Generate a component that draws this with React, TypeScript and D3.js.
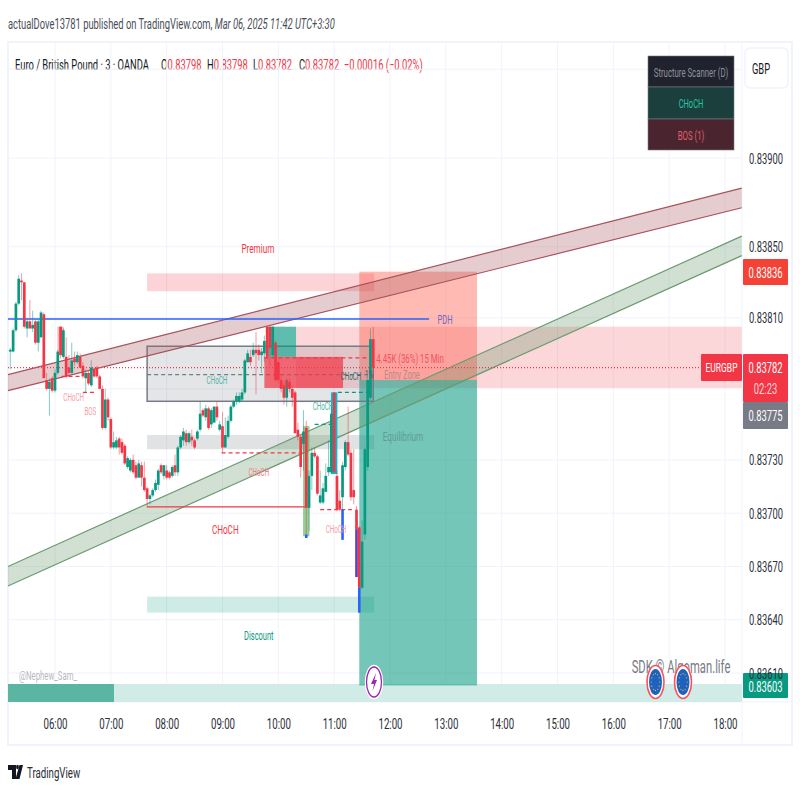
import React, { useEffect, useRef } from "react";
import * as d3 from "d3";

const FONT = "Roboto, 'Liberation Sans', sans-serif";
const UP = "#089981";
const DOWN = "#f23645";
// the whole reference is squeezed sideways, text included
const SQUEEZE = 0.625;

// candles, 3 minute bars, prices in 1/100000
const FIRST_BAR = 312; // 05:12, minutes of the day
const BAR_MINUTES = 3;
const opens = [
  83791, 83791, 83803, 83818, 83831, 83830, 83804, 83808, 83804, 83808,
  83796, 83799, 83812, 83775, 83770, 83776, 83769, 83779, 83805, 83788,
  83788, 83782, 83779, 83787, 83785, 83788, 83783, 83776, 83779, 83772,
  83781, 83782, 83777, 83770, 83748, 83764, 83753, 83737, 83737, 83742,
  83740, 83738, 83726, 83724, 83730, 83727, 83720, 83727, 83720, 83714,
  83708, 83710, 83713, 83716, 83727, 83721, 83724, 83723, 83721, 83727,
  83723, 83737, 83741, 83745, 83740, 83743, 83741, 83742, 83747, 83758,
  83754, 83759, 83750, 83751, 83760, 83747, 83749, 83737, 83743, 83752,
  83760, 83763, 83763, 83764, 83768, 83785, 83788, 83789, 83792, 83792,
  83789, 83790, 83805, 83805, 83789, 83796, 83785, 83775, 83772, 83765,
  83774, 83770, 83768, 83747, 83743, 83739, 83748, 83703, 83721, 83734,
  83732, 83706, 83706, 83712, 83723, 83723, 83768, 83721, 83707, 83709,
  83726, 83740, 83734, 83713, 83702, 83692, 83658, 83688, 83726, 83765,
  83798,
];
const highs = [
  83793, 83804, 83819, 83834, 83835, 83830, 83810, 83820, 83814, 83809,
  83809, 83814, 83813, 83779, 83776, 83777, 83781, 83792, 83805, 83804,
  83799, 83789, 83796, 83791, 83791, 83790, 83785, 83781, 83780, 83786,
  83782, 83783, 83778, 83772, 83770, 83765, 83754, 83746, 83743, 83743,
  83742, 83739, 83732, 83731, 83733, 83729, 83730, 83729, 83729, 83715,
  83711, 83714, 83719, 83725, 83728, 83727, 83727, 83724, 83727, 83733,
  83738, 83744, 83748, 83747, 83746, 83747, 83742, 83747, 83763, 83759,
  83761, 83760, 83759, 83760, 83763, 83752, 83757, 83754, 83755, 83761,
  83764, 83768, 83768, 83770, 83787, 83792, 83792, 83796, 83802, 83795,
  83793, 83800, 83805, 83805, 83805, 83797, 83787, 83778, 83774, 83776,
  83776, 83772, 83769, 83751, 83744, 83758, 83752, 83724, 83737, 83737,
  83733, 83724, 83717, 83728, 83741, 83761, 83768, 83724, 83713, 83729,
  83741, 83760, 83736, 83736, 83704, 83693, 83696, 83737, 83776, 83804,
  83805,
];
const lows = [
  83781, 83791, 83802, 83817, 83820, 83804, 83799, 83804, 83802, 83795,
  83791, 83799, 83776, 83769, 83755, 83768, 83768, 83778, 83787, 83787,
  83776, 83778, 83778, 83783, 83784, 83782, 83776, 83768, 83772, 83771,
  83776, 83776, 83770, 83747, 83747, 83752, 83736, 83736, 83736, 83733,
  83733, 83727, 83725, 83723, 83722, 83719, 83720, 83715, 83712, 83703,
  83705, 83709, 83712, 83713, 83722, 83719, 83719, 83719, 83720, 83721,
  83721, 83736, 83738, 83738, 83739, 83738, 83736, 83741, 83746, 83754,
  83752, 83747, 83748, 83751, 83752, 83746, 83734, 83737, 83742, 83751,
  83759, 83761, 83762, 83763, 83767, 83785, 83783, 83788, 83767, 83786,
  83779, 83785, 83787, 83783, 83787, 83774, 83773, 83768, 83761, 83760,
  83768, 83760, 83745, 83741, 83720, 83724, 83688, 83690, 83713, 83731,
  83710, 83705, 83705, 83712, 83721, 83722, 83723, 83701, 83701, 83685,
  83724, 83732, 83707, 83705, 83665, 83644, 83657, 83685, 83724, 83764,
  83775,
];
const closes = [
  83792, 83803, 83818, 83832, 83830, 83805, 83808, 83804, 83806, 83796,
  83808, 83813, 83776, 83770, 83774, 83769, 83779, 83791, 83789, 83803,
  83777, 83779, 83786, 83785, 83789, 83782, 83777, 83779, 83773, 83782,
  83777, 83777, 83770, 83748, 83764, 83754, 83737, 83740, 83741, 83737,
  83734, 83728, 83731, 83730, 83723, 83720, 83728, 83720, 83713, 83708,
  83710, 83713, 83717, 83724, 83723, 83727, 83720, 83720, 83726, 83723,
  83737, 83743, 83746, 83740, 83745, 83741, 83737, 83746, 83756, 83755,
  83759, 83748, 83758, 83760, 83754, 83750, 83737, 83744, 83752, 83760,
  83763, 83766, 83766, 83768, 83786, 83790, 83785, 83792, 83790, 83789,
  83791, 83797, 83788, 83793, 83805, 83775, 83775, 83770, 83765, 83775,
  83770, 83765, 83745, 83743, 83726, 83746, 83703, 83721, 83734, 83732,
  83711, 83710, 83714, 83721, 83726, 83756, 83723, 83702, 83702, 83727,
  83740, 83733, 83709, 83709, 83691, 83658, 83684, 83736, 83775, 83798,
  83782,
];

// indicator paint on single bars: bar index, top, bottom
const barMarks: [number, number, number, string][] = [
  [18, 83805, 83789, "rgba(242,54,69,0.35)"],
  [106, 83749, 83687, "rgba(76,175,80,0.6)"],
  [116, 83768, 83722, "#00bcd4"],
];
const barTips: [number, number, number, string][] = [
  [106, 83688, 83686, "#2962ff"],
  [119, 83702, 83685, "#2962ff"],
  [124, 83691, 83664, "#673ab7"],
  [125, 83658, 83644, "#2962ff"],
];

const hourTicks = ["06:00", "07:00", "08:00", "09:00", "10:00", "11:00", "12:00", "13:00", "14:00", "15:00", "16:00", "17:00", "18:00"];
const priceTicks = [83900, 83850, 83810, 83730, 83700, 83670, 83640, 83610];
const priceGrid = [83950, 83900, 83850, 83810, 83770, 83730, 83700, 83670, 83640, 83610];

// zones: minutes from, minutes to, price top, price bottom
const premium = [459, 703, 83835, 83825];
const equilibrium = [459, 703, 83744, 83736];
const discount = [459, 703, 83653, 83644];
const rangeBox = [459, 702, 83794, 83763];
const targetBox = [687, 813.5, 83836, 83775];
const stopBox = [687, 813.5, 83775, 83603];
const supplyZone = [619, 1098, 83805, 83770.5];
const tealBlock = [589, 619, 83805, 83788];
const redBlock = [585, 669.5, 83788, 83770.5];

const redChannel = [[309.5, 83778, 83769], [1098, 83883, 83872]];
const greenChannel = [[309.5, 83670, 83659], [1098, 83856, 83845]];

// structure lines: from, to, price, colour, dashed
const structure: [number, number, number, string, boolean][] = [
  [367, 389, 83777, DOWN, true],
  [390, 405, 83768, DOWN, true],
  [539, 623, 83734, DOWN, true],
  [459, 631, 83703.5, DOWN, false],
  [645, 679, 83702, DOWN, true],
  [664, 696, 83768, UP, true],
  [639, 659, 83750, UP, true],
  [585, 698, 83787.4, DOWN, true],
  [459, 702, 83778, "#787b86", true],
];
// chart text: minutes, price, text, colour, size
const chartLabels: [number, number, string, string, number][] = [
  [380, 83765, "CHoCH", "#f7a0a8", 10],
  [398, 83757.5, "BOS", "#f7a0a8", 10],
  [534, 83775, "CHoCH", "#4db6a4", 10],
  [579, 83723, "CHoCH", "#f77c87", 10],
  [543, 83691, "CHoCH", "#f23645", 13],
  [662, 83691, "CHoCH", "#f7a0a8", 10],
  [648, 83760, "CHoCH", "#4db6a4", 10],
  [678, 83777, "CHoCH", "#37695f", 10],
  [578, 83849, "Premium", "#f23645", 13],
  [579, 83631, "Discount", UP, 12],
];

// legend pieces: left edge, label, value
const ohlcLegend: [number, string, string][] = [
  [161, "O", "0.83798"],
  [207, "H", "0.83798"],
  [253, "L", "0.83782"],
  [299, "C", "0.83782"],
];

const squeezed = (x: number, y: number) => `translate(${x},${y}) scale(${SQUEEZE},1)`;

const Row = ({ y, h, fill, color, text, size }: { y: number; h: number; fill: string; color: string; text: string; size: number }) => (
  <g>
    <rect x={648} y={y} width={86} height={h} fill={fill} stroke="#787b86" strokeWidth={0.6} />
    <text transform={squeezed(691, y + h / 2 + 5)} fontSize={size} fill={color} textAnchor="middle">{text}</text>
  </g>
);

const App: React.FC = () => {
  const plotRef = useRef<SVGGElement>(null);
  const axisRef = useRef<SVGGElement>(null);

  const x = d3.scaleLinear().domain([360, 1080]).range([55, 725]);
  const y = d3.scaleLinear().domain([83900, 83610]).range([158, 673]);

  useEffect(() => {
    if (!plotRef.current || !axisRef.current) return;
    const g = d3.select(plotRef.current);
    g.selectAll("*").remove();

    const zone = (z: number[], fill: string, stroke?: string) =>
      g.append("rect")
        .attr("x", x(z[0]))
        .attr("y", y(z[2]))
        .attr("width", x(z[1]) - x(z[0]))
        .attr("height", y(z[3]) - y(z[2]))
        .attr("fill", fill)
        .attr("stroke", stroke || "none")
        .attr("stroke-width", 1.5);

    const text = (tx: number, ty: number, s: string, color: string, size: number) =>
      g.append("text")
        .attr("transform", squeezed(tx, ty + size * 0.36))
        .attr("text-anchor", "middle")
        .attr("font-size", size)
        .attr("fill", color)
        .text(s);

    // grid
    g.selectAll(".hgrid").data(priceGrid).join("line")
      .attr("x1", 8).attr("x2", 742)
      .attr("y1", (d) => y(d)).attr("y2", (d) => y(d))
      .attr("stroke", "#f0f3fa").attr("stroke-width", 1);
    g.selectAll(".vgrid").data(hourTicks).join("line")
      .attr("x1", (_, i) => x(360 + i * 60)).attr("x2", (_, i) => x(360 + i * 60))
      .attr("y1", 42).attr("y2", 702)
      .attr("stroke", "#f0f3fa").attr("stroke-width", 1);

    // bottom strip
    g.append("rect").attr("x", 8).attr("y", 684).attr("width", 734).attr("height", 18).attr("fill", "#d1ebe6");
    g.append("rect").attr("x", 8).attr("y", 684).attr("width", x(423.4) - 8).attr("height", 18).attr("fill", "#5bb5a3");

    // zones below the bars
    zone(supplyZone, "rgba(242,54,69,0.2)");
    zone(premium, "rgba(242,54,69,0.22)");
    zone(equilibrium, "rgba(120,123,134,0.22)");
    zone(discount, "rgba(8,153,129,0.2)");
    zone(targetBox, "rgba(255,90,75,0.42)");
    zone(stopBox, "rgba(8,153,129,0.56)");
    zone(rangeBox, "rgba(120,123,134,0.2)", "#787b86");
    zone(tealBlock, "rgba(8,153,129,0.65)");

    // channels
    const channel = (c: number[][], fill: string, stroke: string) => {
      const area = d3.area<number[]>().x((d) => x(d[0])).y0((d) => y(d[1])).y1((d) => y(d[2]));
      g.append("path").attr("d", area(c)).attr("fill", fill);
      [1, 2].forEach((k) => {
        const line = d3.line<number[]>().x((d) => x(d[0])).y((d) => y(d[k]));
        g.append("path").attr("d", line(c)).attr("fill", "none").attr("stroke", stroke).attr("stroke-width", 1.2);
      });
    };
    channel(redChannel, "rgba(170,90,95,0.3)", "#a8525c");
    channel(greenChannel, "rgba(86,140,90,0.27)", "#6b9a72");

    // pdh and last price
    g.append("line").attr("x1", 8).attr("x2", x(762)).attr("y1", y(83809.3)).attr("y2", y(83809.3)).attr("stroke", "#2962ff").attr("stroke-width", 1.5);
    g.append("line").attr("x1", 8).attr("x2", 702).attr("y1", y(83782)).attr("y2", y(83782)).attr("stroke", DOWN).attr("stroke-width", 1.2).attr("stroke-dasharray", "1,2");

    structure.forEach(([a, b, p, color, dashed]) => {
      g.append("line")
        .attr("x1", x(a)).attr("x2", x(b))
        .attr("y1", y(p)).attr("y2", y(p))
        .attr("stroke", color)
        .attr("stroke-width", 1.3)
        .attr("stroke-dasharray", dashed ? "4,3" : null);
    });

    // bars
    const barX = (i: number) => x(FIRST_BAR + i * BAR_MINUTES);
    const barW = 2.7;
    barMarks.forEach(([i, top, bottom, fill]) => {
      g.append("rect").attr("x", barX(i) - 3.2).attr("width", 6.4).attr("y", y(top)).attr("height", y(bottom) - y(top)).attr("fill", fill);
    });
    opens.forEach((o, i) => {
      const c = closes[i];
      const color = c >= o ? UP : DOWN;
      g.append("line")
        .attr("x1", barX(i)).attr("x2", barX(i))
        .attr("y1", y(highs[i])).attr("y2", y(lows[i]))
        .attr("stroke", color).attr("stroke-opacity", 0.5).attr("stroke-width", 1);
      g.append("rect")
        .attr("x", barX(i) - barW / 2)
        .attr("width", barW)
        .attr("y", y(Math.max(o, c)))
        .attr("height", Math.max(1, Math.abs(y(o) - y(c))))
        .attr("fill", color);
    });
    barTips.forEach(([i, top, bottom, fill]) => {
      g.append("rect").attr("x", barX(i) - 1.3).attr("width", 2.6).attr("y", y(top)).attr("height", y(bottom) - y(top)).attr("fill", fill);
    });
    zone(redBlock, "rgba(242,54,69,0.72)");

    // labels
    chartLabels.forEach(([m, p, s, color, size]) => text(x(m), y(p), s, color, size));
    text(445, y(83809), "PDH", "#7468c4", 12);
    text(403, y(83743), "Equilibrium", "#5f9c94", 13);
    text(410, y(83787), "4.45K (36%) 15 Min", "#f0535f", 12.5);
    text(402, y(83778), "Entry Zone", "#b98a86", 12);
    text(369, y(83778), "1%", "#37695f", 10);
    text(48, 675, "@Nephew_Sam_", "#b6b9c2", 12.5);
    text(681, 667, "SDK © Algoman.life", "#787b86", 18);

    // event icons
    const icons = g.append("g");
    icons.append("ellipse").attr("cx", 374).attr("cy", 682).attr("rx", 8.5).attr("ry", 16.5).attr("fill", "#fff").attr("stroke", "#fff").attr("stroke-width", 1.5);
    icons.append("ellipse").attr("cx", 374).attr("cy", 682).attr("rx", 7.5).attr("ry", 15).attr("fill", "#fff").attr("stroke", "#9c27b0").attr("stroke-width", 1.3);
    icons.append("path").attr("d", "M376 673 L371 684 L374 684 L372.5 691 L377 680 L374.5 680 Z").attr("fill", "#9c27b0");
    [655.5, 683].forEach((cx) => {
      icons.append("ellipse").attr("cx", cx).attr("cy", 682).attr("rx", 8.5).attr("ry", 16.5).attr("fill", "#fff").attr("stroke", "#f7525f").attr("stroke-width", 1.6);
      icons.append("ellipse").attr("cx", cx).attr("cy", 682).attr("rx", 6.5).attr("ry", 13).attr("fill", "#1e62c0");
      d3.range(12).forEach((k) => {
        const a = (k / 12) * Math.PI * 2;
        icons.append("circle").attr("cx", cx + Math.cos(a) * 4.2).attr("cy", 682 + Math.sin(a) * 8.4).attr("r", 0.6).attr("fill", "#f5c83a");
      });
    });

    // price tags
    const tag = (yy: number, h: number, fill: string, lines: [string, string][]) => {
      g.append("rect").attr("x", 743).attr("y", yy).attr("width", 45).attr("height", h).attr("rx", 1).attr("fill", fill);
      lines.forEach(([s, color], i) => {
        g.append("text").attr("transform", squeezed(765.5, yy + 19 + i * 21)).attr("text-anchor", "middle")
          .attr("font-size", 15).attr("fill", color).text(s);
      });
    };
    // axes
    const ax = d3.select(axisRef.current);
    ax.selectAll("*").remove();
    const yAxis = d3.axisRight(y).tickValues(priceTicks).tickSize(0).tickFormat((d) => (+d / 100000).toFixed(5));
    const yg = ax.append("g").attr("transform", "translate(742,0)").call(yAxis);
    yg.select(".domain").remove();
    yg.selectAll("text").attr("x", null).attr("dy", null).attr("transform", squeezed(7, 5))
      .attr("font-family", FONT).attr("font-size", 15).attr("fill", "#2a2e39");
    const xAxis = d3.axisBottom(x).tickValues(hourTicks.map((_, i) => 360 + i * 60)).tickSize(0)
      .tickFormat((_, i) => hourTicks[i]);
    const xg = ax.append("g").attr("transform", "translate(0,702)").call(xAxis);
    xg.select(".domain").remove();
    xg.selectAll("text").attr("y", null).attr("dy", null).attr("transform", squeezed(0, 27))
      .attr("font-family", FONT).attr("font-size", 15.5).attr("fill", "#2a2e39");

    tag(259, 26, "#f44336", [["0.83836", "#ffffff"]]);
    tag(354, 48, DOWN, [["0.83782", "#ffffff"], ["02:23", "#ffd5d8"]]);
    tag(402, 27, "#787b86", [["0.83775", "#ffffff"]]);
    tag(673, 25, UP, [["0.83603", "#ffffff"]]);
    g.append("rect").attr("x", 701).attr("y", 354).attr("width", 41).attr("height", 27).attr("rx", 1).attr("fill", DOWN);
    text(721.5, 367.5, "EURGBP", "#fff", 13.6);
  }, []);

  return (
    <svg
      width={800}
      height={800}
      style={{ position: "absolute", left: 0, top: 0, background: "#fff", fontFamily: FONT }}
    >
      <rect x={8} y={42} width={784} height={703} fill="#fff" stroke="#f0f3fa" strokeWidth={2} />
      <line x1={742} x2={742} y1={42} y2={745} stroke="#f0f3fa" />
      <line x1={8} x2={792} y1={702} y2={702} stroke="#f0f3fa" />

      <text transform={squeezed(8, 29)} fontSize={15} fill="#4a4e59">
        actualDove13781 published on TradingView.com, <tspan fontStyle="italic">Mar 06, 2025 11:42 UTC+3:30</tspan>
      </text>

      <g fontSize={15}>
        <text transform={squeezed(15, 70)} fill="#131722">Euro / British Pound · 3 · OANDA</text>
        {ohlcLegend.map(([left, name, value]) => (
          <text key={left} transform={squeezed(left, 70)} fill="#131722">
            {name}<tspan fill={DOWN}>{value}</tspan>
          </text>
        ))}
        <text transform={squeezed(344, 70)} fill={DOWN}>−0.00016 (−0.02%)</text>
      </g>

      <g ref={plotRef} />
      <g ref={axisRef} />

      <Row y={56} h={31} fill="#20232e" color="#8f929b" text="Structure Scanner (D)" size={12.5} />
      <Row y={87} h={32} fill="#1b3f3d" color="#26c6a6" text="CHoCH" size={12} />
      <Row y={119} h={31} fill="#4a2530" color="#e0606a" text="BOS (1)" size={12.5} />

      <rect x={745} y={48} width={43} height={40} rx={5} fill="#fff" stroke="#f0f3fa" strokeWidth={1.5} />
      <text transform={squeezed(761, 74)} fontSize={15} fill="#131722" textAnchor="middle">GBP</text>

      {/* logo */}
      <path d="M8 765 H16 V779 H12 V770 H8 Z" fill="#131722" />
      <ellipse cx={17.5} cy={767} rx={1.4} ry={2.2} fill="#131722" />
      <path d="M15.5 779 L19.5 765 H23 L19.5 779 Z" fill="#131722" />
      <text transform={squeezed(27, 778)} fontSize={15.5} fill="#2a2e39">TradingView</text>
    </svg>
  );
};

export default App;
